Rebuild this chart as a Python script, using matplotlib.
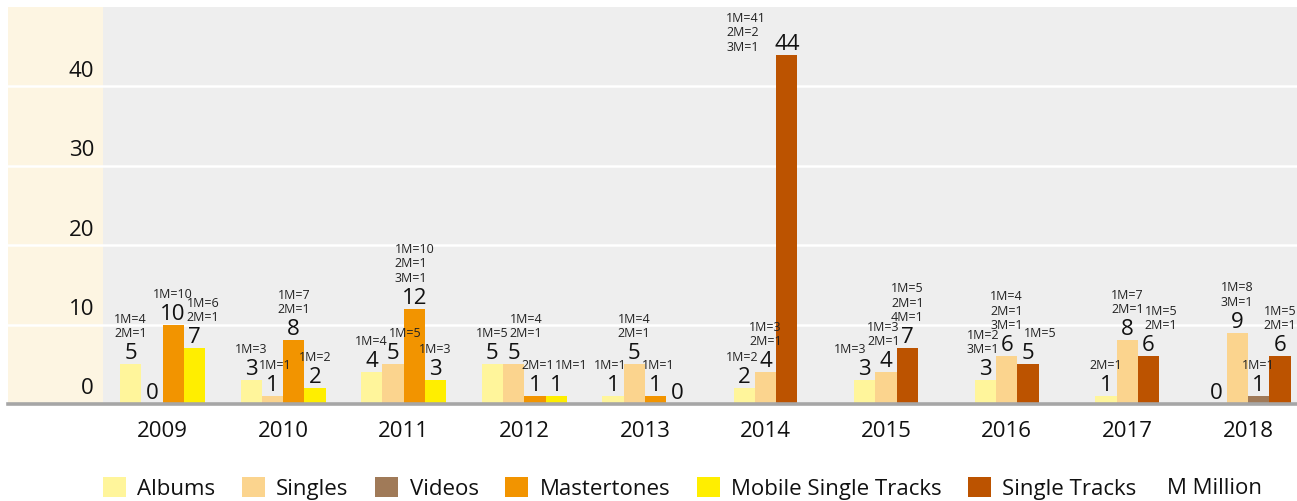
import matplotlib
matplotlib.use('Agg')
import matplotlib.pyplot as plt
from matplotlib.patches import Patch

plt.rcParams['font.family'] = ['Open Sans', 'DejaVu Sans']

# ---------------- data ----------------
years = ['2009', '2010', '2011', '2012', '2013', '2014', '2015', '2016', '2017', '2018']
series = ['Albums', 'Singles', 'Videos', 'Mastertones', 'Mobile Single Tracks', 'Single Tracks']

albums = [5, 3, 4, 5, 1, 2, 3, 3, 1, 0]
singles = [0, 1, 5, 5, 5, 4, 4, 6, 8, 9]
videos = [None, None, None, None, None, None, None, None, None, 1]
mastertones = [10, 8, 12, 1, 1, None, None, None, None, None]
mobile_single_tracks = [7, 2, 3, 1, 0, None, None, None, None, None]
single_tracks = [None, None, None, None, None, 44, 7, 5, 6, 6]

albums_notes = ['1M=4\n2M=1', '1M=3', '1M=4', '1M=5', '1M=1', '1M=2', '1M=3', '1M=2\n3M=1', '2M=1', '']
singles_notes = ['', '1M=1', '1M=5', '1M=4\n2M=1', '1M=4\n2M=1', '1M=3\n2M=1', '1M=3\n2M=1',
                 '1M=4\n2M=1\n3M=1', '1M=7\n2M=1', '1M=8\n3M=1']
videos_notes = ['', '', '', '', '', '', '', '', '', '1M=1']
mastertones_notes = ['1M=10', '1M=7\n2M=1', '1M=10\n2M=1\n3M=1', '2M=1', '1M=1', '', '', '', '', '']
mobile_notes = ['1M=6\n2M=1', '1M=2', '1M=3', '1M=1', '', '', '', '', '', '']
single_tracks_notes = ['', '', '', '', '', '1M=41\n2M=2\n3M=1', '1M=5\n2M=1\n4M=1', '1M=5',
                       '1M=5\n2M=1', '1M=5\n2M=1']

y_ticks = [0, 10, 20, 30, 40]

# ---------------- styles ----------------
colors = ['#FFF59B', '#FBD48E', '#A07A58', '#F29400', '#FFEE00', '#BC5300']
cream = '#FDF5E2'
panel = '#EEEEEE'
ink = '#111111'

values = [albums, singles, videos, mastertones, mobile_single_tracks, single_tracks]
notes = [albums_notes, singles_notes, videos_notes, mastertones_notes, mobile_notes, single_tracks_notes]

W, H = 1297, 502
fig = plt.figure(figsize=(W / 100, H / 100), dpi=100)
fig.patch.set_facecolor('white')

ax = fig.add_axes([8 / W, (H - 405) / H, (W - 8) / W, (405 - 8) / H])
ax.set_facecolor(panel)
step = 120.6
x_left = (8 - 162.5) / step
x_right = (W - 162.5) / step
x_cream = (103 - 162.5) / step
ax.set_xlim(x_left, x_right)
ax.set_ylim(0, 50)
for s in ax.spines.values():
    s.set_visible(False)
ax.set_xticks([])
ax.set_yticks([])

ax.axvspan(x_left, x_cream, color=cream, zorder=0, lw=0)
for t in y_ticks[1:]:
    ax.axhline(t, color='white', lw=1.8, zorder=1)
ax.axhline(0, color='#A6A6A6', lw=2.6, zorder=4, clip_on=False)

for t in y_ticks:
    ax.annotate(str(t), xy=(x_cream, t), xytext=(-9, 16), textcoords='offset pixels',
                ha='right', va='center', fontsize=16, color=ink)

bw = 21.3 / step
groups = []
for i, yr in enumerate(years):
    present = [k for k in range(len(series)) if values[k][i] is not None]
    n = len(present)
    items = []
    for j, k in enumerate(present):
        xc = i + (j - (n - 1) / 2) * bw
        v = values[k][i]
        ax.bar(xc, v, width=bw, color=colors[k], zorder=3, lw=0)
        vt = ax.annotate(str(v), xy=(xc, v), xytext=(0, 6), textcoords='offset pixels',
                         ha='center', va='baseline', fontsize=16, color=ink, zorder=6)
        nt = None
        if notes[k][i]:
            nt = ax.annotate(notes[k][i], xy=(xc, v), xytext=(0, 25), textcoords='offset pixels',
                             ha='center', va='bottom', multialignment='left', fontsize=9,
                             color='#222222', linespacing=1.15, zorder=6)
        items.append((vt, nt))
    groups.append(items)
    ax.annotate(yr, xy=(i, 0), xytext=(0, -27), textcoords='offset pixels',
                ha='center', va='center', fontsize=16, color=ink, annotation_clip=False)

# ---------------- simple label layout ----------------
fig.canvas.draw()
r = fig.canvas.get_renderer()
axb = ax.get_window_extent(r)


def vbox(t):
    b = t.get_window_extent(r)
    return (b.x0, b.y0 + 2, b.x1, b.y1 - 7)


def nbox(t):
    b = t.get_window_extent(r)
    return (b.x0, b.y0 + 2, b.x1, b.y1 - 3)


def overlap(a, b):
    return a[0] < b[2] and a[2] > b[0] and a[1] < b[3] and a[3] > b[1]


def moved(b, dx):
    return (b[0] + dx, b[1], b[2] + dx, b[3])


def resolve(box, obstacles, direction):
    dx = 0
    for _ in range(12):
        hits = [o for o in obstacles if overlap(moved(box, dx), o)]
        if not hits:
            return dx
        if direction > 0:
            dx = max(o[2] - box[0] + 1 for o in hits)
        else:
            dx = min(o[0] - box[2] - 1 for o in hits)
    return None


def shift_note(nt, dx):
    nt.xyann = (nt.xyann[0] + dx, nt.xyann[1])


for items in groups:
    vboxes = [vbox(vt) for vt, _ in items]
    placed = []  # list of [note_text, box]
    for idx, (vt, nt) in enumerate(items):
        if nt is None:
            continue
        vb = vt.get_window_extent(r)
        nb = nt.get_window_extent(r)
        if nb.y1 > axb.y1:
            # not enough room above: put the note block to the left of the value
            nt.set_ha('right')
            nt.xyann = (-(vb.width / 2 + 8), 2)
            fig.canvas.draw()
            placed.append([nt, nbox(nt)])
            continue
        box = nbox(nt)
        others_v = [b for j, b in enumerate(vboxes) if j != idx]
        obstacles = [p[1] for p in placed] + others_v
        dx = resolve(box, obstacles, +1)
        if dx is not None and dx <= 15:
            shift_note(nt, dx)
            placed.append([nt, moved(box, dx)])
            continue
        # alternative: clear the values by moving left, then push earlier notes left
        dl = resolve(box, others_v, -1)
        ok = dl is not None and dl >= -20
        pushes = []
        if ok:
            nbx = moved(box, dl)
            for p in placed:
                if overlap(nbx, p[1]):
                    need = nbx[0] - p[1][2] - 1
                    pb = moved(p[1], need)
                    rest = [q[1] for q in placed if q is not p] + \
                           [b for j, b in enumerate(vboxes)]
                    if need < -30 or any(overlap(pb, o) for o in rest):
                        ok = False
                        break
                    pushes.append((p, need))
        if ok:
            for p, need in pushes:
                shift_note(p[0], need)
                p[1] = moved(p[1], need)
            shift_note(nt, dl)
            placed.append([nt, moved(box, dl)])
        elif dx is not None:
            shift_note(nt, dx)
            placed.append([nt, moved(box, dx)])
        else:
            placed.append([nt, box])

# ---------------- legend ----------------
handles = [Patch(facecolor=c, edgecolor='none') for c in colors]
leg = fig.legend(handles, series, loc='center left', bbox_to_anchor=(103 / W, 1 - 489 / H),
                 ncol=6, frameon=False, fontsize=16, handlelength=1.04, handleheight=1.04,
                 handletextpad=0.5, columnspacing=1.2, borderpad=0, borderaxespad=0)
for t in leg.get_texts():
    t.set_color(ink)
fig.text(1167 / W, 1 - 489 / H, 'M Million', ha='left', va='center', fontsize=16, color=ink)

fig.savefig('out.png', dpi=100)
